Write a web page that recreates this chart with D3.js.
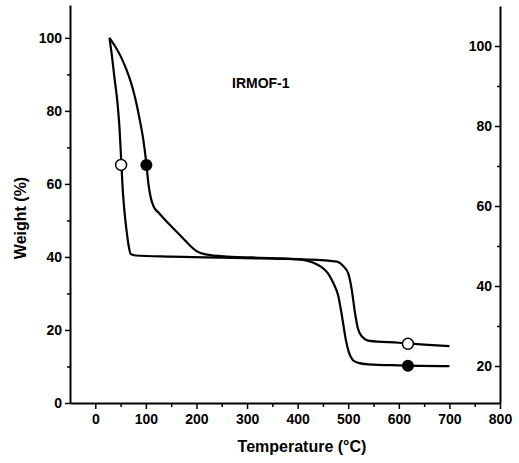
<!DOCTYPE html>
<html>
<head>
<meta charset="utf-8">
<script src="https://cdn.jsdelivr.net/npm/d3@7"></script>
<style>
  body { margin: 0; background: #fff; }
  text { font-family: "Liberation Sans", Arial, sans-serif; font-weight: bold; fill: #000; }
</style>
</head>
<body>
<div id="chart"></div>
<script>
// data: [temperature °C, weight %]
const openCurve = [[28,100],[32,96],[38,89],[44,82],[48,75],[51,67],[54,59],[58,52],[62,47],[66,43],[70,40.8],[80,40.4],[150,40.1],[250,39.8],[350,39.5],[420,39.3],[460,39],[478,38.7],[490,37.5],[500,35.5],[507,31],[513,25],[519,20.5],[527,18.2],[542,17],[600,16.5],[650,16],[700,15.6]];
const filledCurve = [[28,100],[40,97.5],[50,95],[61,91.5],[70,88],[78,84],[88,77.5],[95,72],[101,65.5],[105,60],[110,56],[116,53.6],[124,52.3],[135,50.6],[150,48.4],[170,45.6],[188,43],[200,41.6],[218,40.7],[260,40.1],[350,39.7],[410,39.2],[430,38.5],[445,37.4],[460,35.5],[470,33],[480,29.5],[488,23.5],[495,17.5],[501,14],[509,11.8],[520,11],[540,10.6],[600,10.3],[700,10.1]];
const openMarks = [[51,65.2],[618,16.2]];
const filledMarks = [[101,65.2],[618,10.2]];
const xTicks = [0,100,200,300,400,500,600,700,800];
const xMinor = [50,150,250,350,450,550,650,750];
const yTicks = [0,20,40,60,80,100];
const yMinor = [10,30,50,70,90];
const rTicks = [20,40,60,80,100];
const rMinor = [30,50,70,90];

const W = 519, H = 463;
const svg = d3.select("#chart").append("svg")
    .attr("width", W)
    .attr("height", H);

const x = d3.scaleLinear().domain([-50, 800]).range([70, 500]);
const y = d3.scaleLinear().domain([0, 109]).range([403, 5]);
const yR = d3.scaleLinear().domain([10.75, 110]).range([403, 6]);

// curves
const line = d3.line()
    .x(d => x(d[0]))
    .y(d => y(d[1]))
    .curve(d3.curveMonotoneX);

svg.append("path").datum(openCurve)
    .attr("d", line).attr("fill", "none").attr("stroke", "#000").attr("stroke-width", 2.2);
svg.append("path").datum(filledCurve)
    .attr("d", line).attr("fill", "none").attr("stroke", "#000").attr("stroke-width", 2.2);

svg.selectAll(".openMark").data(openMarks).enter().append("circle")
    .attr("cx", d => x(d[0])).attr("cy", d => y(d[1])).attr("r", 5.5)
    .attr("fill", "#fff").attr("stroke", "#000").attr("stroke-width", 1.5);
svg.selectAll(".fillMark").data(filledMarks).enter().append("circle")
    .attr("cx", d => x(d[0])).attr("cy", d => y(d[1])).attr("r", 6)
    .attr("fill", "#000");

// axes
function styleAxis(g) {
    g.select(".domain").attr("stroke-width", 2);
    g.selectAll(".tick line").attr("stroke-width", 1.5);
    g.selectAll(".tick text").style("font-size", "14px").style("font-weight", "bold")
        .style("font-family", "'Liberation Sans', Arial, sans-serif");
}

// left
svg.append("g").attr("transform", "translate(70,0)")
    .call(d3.axisLeft(y).tickValues(yTicks).tickSizeInner(5).tickSizeOuter(0).tickPadding(3))
    .call(styleAxis);
svg.append("g").attr("transform", "translate(70,0)")
    .call(d3.axisLeft(y).tickValues(yMinor).tickSize(3).tickFormat(""))
    .call(g => g.select(".domain").remove())
    .call(styleAxis);

// right (labels sit on the inner side)
svg.append("g").attr("transform", "translate(500,0)")
    .call(d3.axisLeft(yR).tickValues(rTicks).tickSizeInner(5).tickSizeOuter(0).tickPadding(3))
    .call(styleAxis);
svg.append("g").attr("transform", "translate(500,0)")
    .call(d3.axisLeft(yR).tickValues(rMinor).tickSize(3).tickFormat(""))
    .call(g => g.select(".domain").remove())
    .call(styleAxis);

// bottom
svg.append("g").attr("transform", "translate(0,403)")
    .call(d3.axisBottom(x).tickValues(xTicks).tickSizeInner(6).tickSizeOuter(0).tickPadding(5))
    .call(styleAxis);
svg.append("g").attr("transform", "translate(0,403)")
    .call(d3.axisBottom(x).tickValues(xMinor).tickSize(4).tickFormat(""))
    .call(g => g.select(".domain").remove())
    .call(styleAxis);

// labels
svg.append("text")
    .attr("transform", "translate(26,218) rotate(-90)")
    .attr("text-anchor", "middle")
    .style("font-size", "16px")
    .text("Weight (%)");

svg.append("text")
    .attr("x", 302).attr("y", 452)
    .attr("text-anchor", "middle")
    .style("font-size", "16px")
    .text("Temperature (°C)");

svg.append("text")
    .attr("x", 232).attr("y", 88)
    .style("font-size", "14px")
    .text("IRMOF-1");
</script>
</body>
</html>
